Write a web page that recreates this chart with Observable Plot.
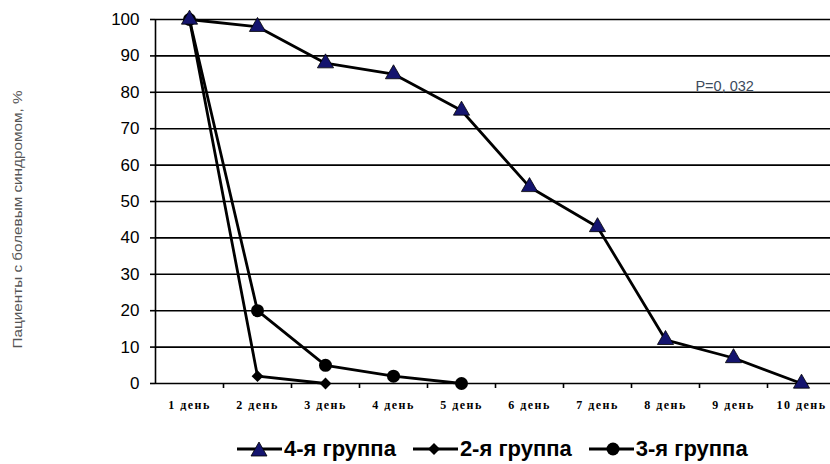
<!DOCTYPE html>
<html>
<head>
<meta charset="utf-8">
<script src="https://cdn.jsdelivr.net/npm/d3@7"></script>
<script src="https://cdn.jsdelivr.net/npm/@observablehq/plot@0.6"></script>
<style>
  html, body { margin: 0; padding: 0; background: #fff; }
  #wrap { width: 830px; height: 464px; position: relative; overflow: hidden; }
  #legend { position: absolute; left: 237px; top: 436px; height: 26px; display: flex; align-items: center;
    font-family: Arial, "Liberation Sans", sans-serif; font-weight: bold; font-size: 22px; color: #000; letter-spacing: 0px; }
  #legend .item { display: flex; align-items: center; margin-right: 17px; }
  #legend svg { display: block; margin-right: 2px; }
  .xlab text { letter-spacing: 1.5px; }
</style>
</head>
<body>
<div id="wrap"><div id="chart"></div><div id="legend"></div></div>
<script>
const days = [1, 2, 3, 4, 5, 6, 7, 8, 9, 10];
const dayLabels = ["1 день","2 день","3 день","4 день","5 день","6 день","7 день","8 день","9 день","10 день"];
const yTicks = [0, 10, 20, 30, 40, 50, 60, 70, 80, 90, 100];
const group4 = [100, 98, 88, 85, 75, 54, 43, 12, 7, 0];
const group2 = [100, 2, 0];
const group3 = [100, 20, 5, 2, 0];
const seriesNames = ["4-я группа", "2-я группа", "3-я группа"];
const yLabel = "Пациенты с болевым синдромом, %";
const annotations = [{day: 8.87, value: 81.6, text: "P=0, 032"}];

const toRows = (vals, name) => vals.map((v, i) => ({day: days[i], value: v, series: name}));
const rows4 = toRows(group4, seriesNames[0]);
const rows2 = toRows(group2, seriesNames[1]);
const rows3 = toRows(group3, seriesNames[2]);

const squareDiamond = {
  draw(c, s) { const r = Math.sqrt(s / 2); c.moveTo(0, -r); c.lineTo(r, 0); c.lineTo(0, r); c.lineTo(-r, 0); c.closePath(); }
};

const chart = Plot.plot({
  width: 830,
  height: 428,
  marginTop: 19,
  marginBottom: 45,
  marginLeft: 155,
  marginRight: 0,
  style: {fontFamily: "Arial, 'Liberation Sans', sans-serif", background: "#fff", color: "#000"},
  x: {type: "linear", domain: [0.5, 10.5], range: [155, 835]},
  y: {domain: [0, 100]},
  marks: [
    Plot.ruleY(yTicks, {stroke: "#000", strokeWidth: 1.6}),
    Plot.ruleX([0.5], {y1: 0, y2: 100, stroke: "#000", strokeWidth: 1.6}),
    Plot.axisY({ticks: yTicks, tickSize: 5, tickPadding: 11, fontSize: 17, label: null, stroke: "#000", strokeWidth: 1.6}),
    Plot.axisX({ticks: days.map(d => d + 0.5).slice(0, 9), tickSize: 5, tickFormat: () => "", label: null, strokeWidth: 1.6}),
    Plot.axisX({ticks: days, tickSize: 0, tickPadding: 17, tickFormat: d => dayLabels[days.indexOf(d)], label: null,
      fontFamily: "'Liberation Serif', 'DejaVu Serif', serif", fontSize: 12, fontWeight: "bold", className: "xlab"}),
    Plot.text([yLabel], {frameAnchor: "left", text: d => d, rotate: -90, dx: -137, dy: 18, fontSize: 12, fill: "#555", textAnchor: "middle", className: "ylab"}),
    Plot.text(annotations, {x: "day", y: "value", text: "text", fontSize: 14.5, fill: "#3d4b5c"}),
    Plot.line(rows4, {x: "day", y: "value", stroke: "#000", strokeWidth: 2.8}),
    Plot.line(rows2, {x: "day", y: "value", stroke: "#000", strokeWidth: 2.8}),
    Plot.line(rows3, {x: "day", y: "value", stroke: "#000", strokeWidth: 2.8}),
    Plot.dot(rows2, {x: "day", y: "value", symbol: squareDiamond, r: 4.7, fill: "#000"}),
    Plot.dot(rows3, {x: "day", y: "value", symbol: "circle", r: 6.5, fill: "#000"}),
    Plot.dot(rows4, {x: "day", y: "value", symbol: "triangle", r: 6, fill: "#14146e", stroke: "#000", strokeWidth: 0.8})
  ]
});
document.getElementById("chart").appendChild(chart);
d3.select(chart).selectAll(".ylab text").attr("textLength", 258).attr("lengthAdjust", "spacingAndGlyphs");

// Legend
const legend = document.getElementById("legend");
const symbols = [
  `<polygon points="22,2 30,16 14,16" fill="#14146e" stroke="#000" stroke-width="0.8"/>`,
  `<polygon points="21,3 27,9 21,15 15,9" fill="#000"/>`,
  `<circle cx="24" cy="9" r="6.5" fill="#000"/>`
];
seriesNames.forEach((name, i) => {
  const item = document.createElement("div");
  item.className = "item";
  item.innerHTML = `<svg width="45" height="18"><line x1="0" y1="9" x2="45" y2="9" stroke="#000" stroke-width="2.8"/>${symbols[i]}</svg><span>${name}</span>`;
  legend.appendChild(item);
});
</script>
</body>
</html>
